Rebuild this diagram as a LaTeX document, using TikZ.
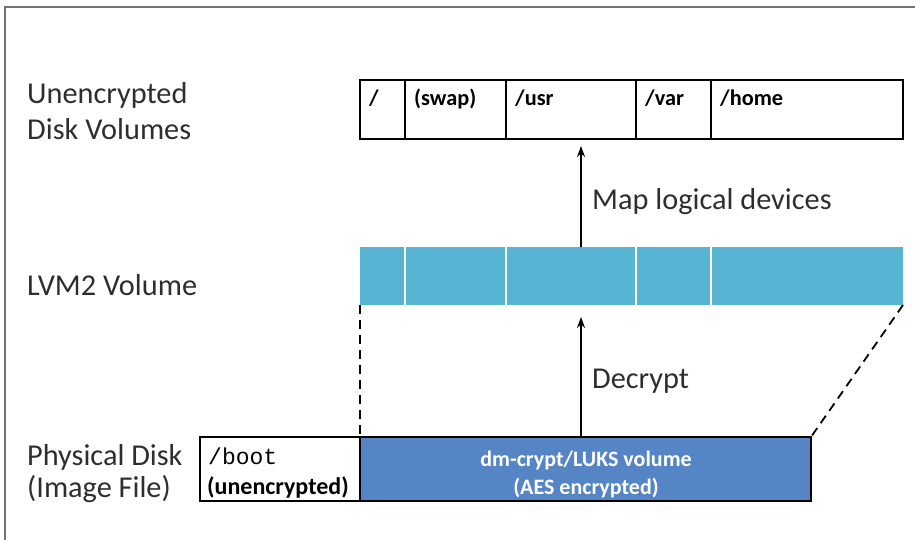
\documentclass[tikz,border=0pt]{standalone}
\usepackage{fontspec}
\setmainfont{Carlito}
\newfontfamily\monofont{Liberation Mono}
\usetikzlibrary{arrows.meta}
\definecolor{lvmblue}{HTML}{58B4D3}
\definecolor{luksblue}{HTML}{5585C5}
\definecolor{txt}{HTML}{2E2E2E}
\tikzset{
  lbl/.style={anchor=base west,inner sep=0pt,text=txt,font=\fontsize{30.3}{34}\selectfont},
  boxtxt/.style={anchor=base west,inner sep=0pt,text=black,font=\fontsize{22.3}{25}\selectfont\bfseries},
  whitetxt/.style={anchor=base,inner sep=0pt,text=white,font=\fontsize{22}{25}\selectfont\bfseries},
  volbox/.style={draw=black,line width=2.6pt,fill=white},
  conn/.style={line width=1.8pt,black,-{Stealth[length=11pt,width=8pt]}},
  dashline/.style={line width=1.8pt,black,dash pattern=on 9pt off 6pt}
}
\begin{document}
\begin{tikzpicture}[x=1pt,y=-1pt]
\useasboundingbox (0,0) rectangle (915,540);
% frame
\draw[line width=2pt,black!55] (5,540) -- (5,7) -- (915,7);
% left labels
\node[lbl] (l1a) at (27,104) {Unencrypted};
\node[lbl] (l1b) at (27,140) {Disk Volumes};
\node[lbl] (l2) at (27,295) {LVM2 Volume};
\node[lbl] (l3a) at (27,465) {Physical Disk};
\node[lbl] (l3b) at (27,497) {(Image File)};
% LVM bar
\fill[lvmblue] (360,247) rectangle (903,305);
\foreach \xx in {405,506,636,711}{\draw[white,line width=1.5pt] (\xx,247) -- (\xx,305);}
\coordinate (lvmL) at (360,305);
\coordinate (lvmR) at (903,305);
\coordinate (lvmB) at (581,317);
\coordinate (lvmT) at (581,247);
% top boxes
\draw[volbox] (360,80) rectangle (903,139);
\foreach \xx in {405,506,636,711}{\draw[black,line width=2.6pt] (\xx,80) -- (\xx,139);}
\coordinate (topB) at (581,146);
\node[boxtxt] (t1) at (369,106) {/};
\node[boxtxt] (t2) at (414,106) {(swap)};
\node[boxtxt] (t3) at (515,106) {/usr};
\node[boxtxt] (t4) at (645,106) {/var};
\node[boxtxt] (t5) at (720,106) {/home};
% bottom boxes
\draw[volbox] (200,437) rectangle (360,501);
\draw[draw=black,line width=2.6pt,fill=luksblue] (360,437) rectangle (811,501);
\coordinate (bootTR) at (360,437);
\coordinate (luksTR) at (811,437);
\coordinate (luksT) at (581,437);
\node[anchor=base west,inner sep=0pt,font=\monofont\fontsize{23}{26}\selectfont] (b1) at (208,464) {/boot};
\node[boxtxt,font=\fontsize{24}{26}\selectfont\bfseries] (b2) at (207,494) {(unencrypted)};
\node[whitetxt] (c1) at (586,466) {dm-crypt/LUKS volume};
\node[whitetxt] (c2) at (586,494) {(AES encrypted)};
% dashed lines
\draw[dashline] (lvmL) -- (bootTR);
\draw[dashline] (lvmR) -- (luksTR);
% arrows
\draw[conn] (luksT) -- (lvmB);
\draw[conn] (lvmT) -- (topB);
\node[lbl] (dec) at (592,388) {Decrypt};
\node[lbl] (map) at (592,210) {Map logical devices};
\end{tikzpicture}
\end{document}
